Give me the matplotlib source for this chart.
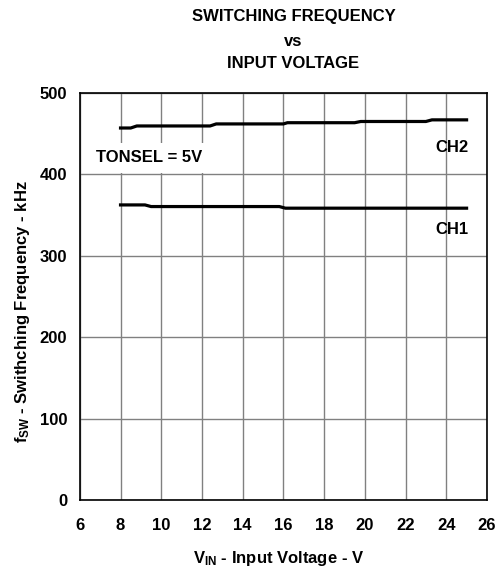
import matplotlib.pyplot as plt

plt.rcParams['font.family'] = ['Liberation Sans', 'DejaVu Sans']
plt.rcParams['font.weight'] = 'bold'
plt.rcParams['mathtext.fontset'] = 'custom'
plt.rcParams['mathtext.bf'] = 'Liberation Sans:bold'
plt.rcParams['mathtext.rm'] = 'Liberation Sans:bold'
plt.rcParams['mathtext.default'] = 'bf'

# data (V, kHz)
ch2_vin = [8.0, 8.5, 8.8, 12.4, 12.7, 16.0, 16.2, 19.5, 19.8, 23.0, 23.3, 25.0]
ch2_fsw = [457, 457, 459.5, 459.5, 462, 462, 463.5, 463.5, 465, 465, 467, 467]
ch1_vin = [8.0, 9.2, 9.5, 15.8, 16.1, 25.0]
ch1_fsw = [362.5, 362.5, 360.5, 360.5, 358.5, 358.5]

x_ticks = list(range(6, 27, 2))
y_ticks = list(range(0, 501, 100))

FS = 12

fig = plt.figure(figsize=(5.02, 5.73), dpi=100)
ax = fig.add_axes([0.159, 0.1274, 0.811, 0.7103])

ax.plot(ch2_vin, ch2_fsw, color='black', linewidth=2.3, zorder=3)
ax.plot(ch1_vin, ch1_fsw, color='black', linewidth=2.3, zorder=3)

ax.set_xlim(6, 26)
ax.set_ylim(0, 500)
ax.set_xticks(x_ticks)
ax.set_yticks(y_ticks)
ax.grid(True, color='#808080', linewidth=1.0)
ax.tick_params(length=0, labelsize=FS)
ax.tick_params(axis='x', pad=13)
ax.tick_params(axis='y', pad=9)
for s in ax.spines.values():
    s.set_linewidth(1.2)

ax.text(6.8, 420.5, 'TONSEL = 5V', fontsize=FS, fontweight='bold', va='center', ha='left',
        bbox=dict(facecolor='white', edgecolor='none', boxstyle='square,pad=0.45'), zorder=4)
ax.text(25.1, 433.5, 'CH2', fontsize=FS, fontweight='bold', va='center', ha='right', zorder=4)
ax.text(25.1, 332, 'CH1', fontsize=FS, fontweight='bold', va='center', ha='right', zorder=4)

fig.text(278.5 / 502, 1 - 558 / 573, r'V$_{\mathbf{IN}}$ - Input Voltage - V',
         ha='center', va='center', fontsize=FS, fontweight='bold')
fig.text(23 / 502, 1 - 312 / 573, r'f$_{\mathbf{SW}}$ - Swithching Frequency - kHz',
         ha='center', va='center', rotation=90, fontsize=FS, fontweight='bold')

fig.text(293.5 / 502, 1 - 17 / 573, 'SWITCHING FREQUENCY', ha='center', va='center', fontsize=FS, fontweight='bold')
fig.text(293.5 / 502, 1 - 41 / 573, 'vs', ha='center', va='center', fontsize=FS, fontweight='bold')
fig.text(293.5 / 502, 1 - 63 / 573, 'INPUT VOLTAGE', ha='center', va='center', fontsize=FS, fontweight='bold')

fig.savefig('out.png', dpi=100)
